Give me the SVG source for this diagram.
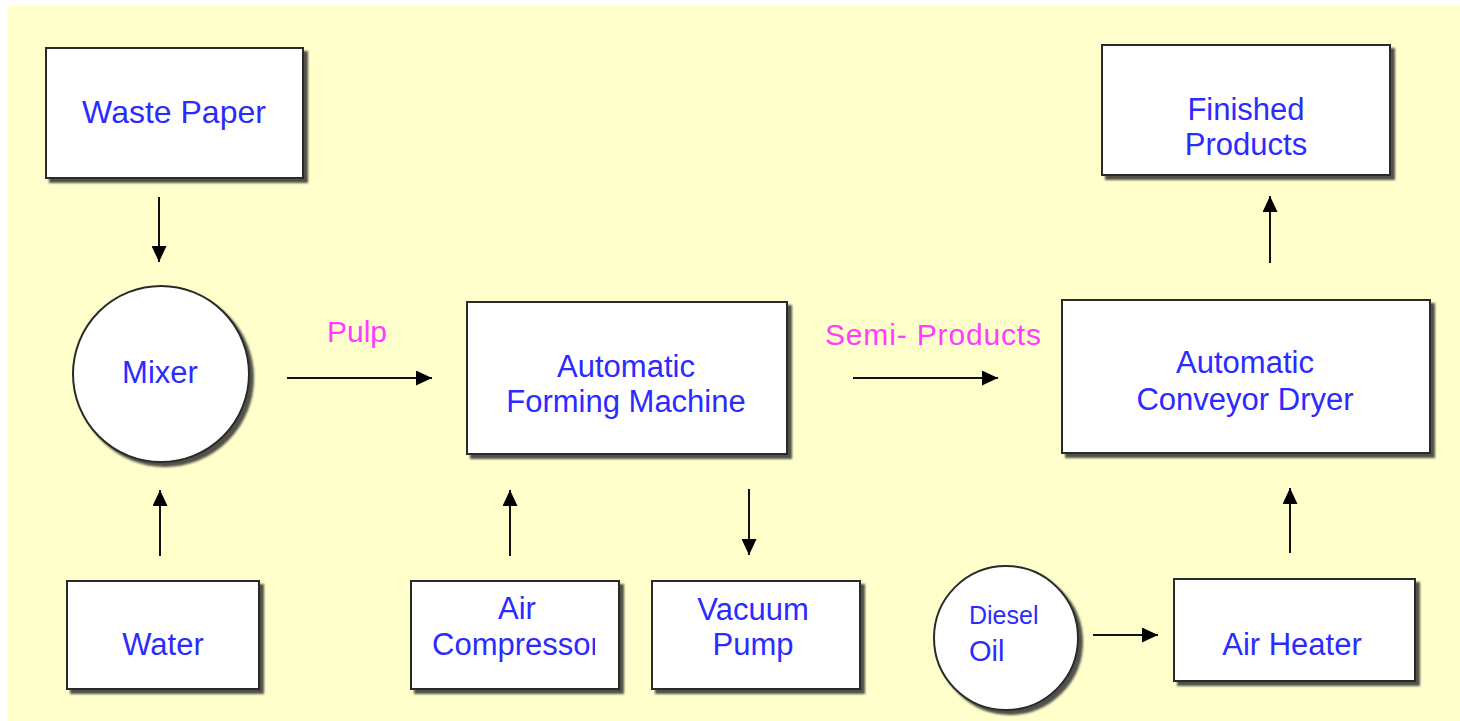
<svg xmlns="http://www.w3.org/2000/svg" width="1460" height="721" viewBox="0 0 1460 721">
<style>
.box{fill:#fff;stroke:#2a2a2a;stroke-width:2;filter:url(#sh)}
.t{font-family:"Liberation Sans",Arial,sans-serif;font-size:31px;fill:#2b2bff;text-anchor:middle}
.m{font-family:"Liberation Sans",Arial,sans-serif;font-size:30px;fill:#ff3cff}
.c{stroke:#111;stroke-width:2;fill:none;marker-end:url(#ah)}
</style>
<defs>
<filter id="sh" x="-10%" y="-10%" width="130%" height="130%">
<feDropShadow dx="4" dy="4" stdDeviation="1.2" flood-color="#333" flood-opacity="0.85"/>
</filter>
<marker id="ah" viewBox="0 0 16 15" refX="16" refY="7.5" markerWidth="17" markerHeight="15" markerUnits="userSpaceOnUse" orient="auto">
<path d="M0,0 L16,7.5 L0,15 Z" fill="#000"/>
</marker>
<clipPath id="clipComp"><rect x="411" y="581" width="184" height="108"/></clipPath>
</defs>
<rect x="8" y="6" width="1452" height="715" fill="#ffffcc"/>
<g id="connectors">
<line class="c" x1="159" y1="197" x2="159" y2="262"/>
<line class="c" x1="160" y1="556" x2="160" y2="490"/>
<line class="c" x1="287" y1="378" x2="432" y2="378"/>
<line class="c" x1="510" y1="556" x2="510" y2="490"/>
<line class="c" x1="749" y1="489" x2="749" y2="555"/>
<line class="c" x1="853" y1="378" x2="998" y2="378"/>
<line class="c" x1="1270" y1="263" x2="1270" y2="196"/>
<line class="c" x1="1290" y1="553" x2="1290" y2="488"/>
<line class="c" x1="1093" y1="635" x2="1158" y2="635"/>
<text class="m" x="327" y="342">Pulp</text>
<text class="m" x="825" y="345" textLength="216">Semi- Products</text>
</g>
<g id="waste-paper">
<rect class="box" x="46" y="48" width="257" height="130"/>
<text class="t" x="174" y="123" style="font-size:32px">Waste Paper</text>
</g>
<g id="mixer">
<circle class="box" cx="161" cy="374" r="88"/>
<text class="t" x="160" y="383">Mixer</text>
</g>
<g id="water">
<rect class="box" x="67" y="581" width="192" height="108"/>
<text class="t" x="163" y="655">Water</text>
</g>
<g id="forming-machine">
<rect class="box" x="467" y="302" width="320" height="152"/>
<text class="t" x="626" y="377">Automatic</text>
<text class="t" x="626" y="412">Forming Machine</text>
</g>
<g id="air-compressor">
<rect class="box" x="411" y="581" width="208" height="108"/>
<text class="t" x="517" y="619">Air</text>
<text class="t" x="432" y="655" clip-path="url(#clipComp)" style="text-anchor:start">Compressor</text>
</g>
<g id="vacuum-pump">
<rect class="box" x="652" y="581" width="208" height="108"/>
<text class="t" x="753" y="620">Vacuum</text>
<text class="t" x="753" y="655">Pump</text>
</g>
<g id="conveyor-dryer">
<rect class="box" x="1062" y="300" width="368" height="153"/>
<text class="t" x="1245" y="373">Automatic</text>
<text class="t" x="1245" y="410">Conveyor Dryer</text>
</g>
<g id="finished-products">
<rect class="box" x="1102" y="45" width="288" height="130"/>
<text class="t" x="1246" y="120">Finished</text>
<text class="t" x="1246" y="155">Products</text>
</g>
<g id="diesel-oil">
<circle class="box" cx="1006" cy="638" r="72"/>
<text class="t" x="969" y="624" style="font-size:25px;text-anchor:start">Diesel</text>
<text class="t" x="969" y="661" style="font-size:29px;text-anchor:start">Oil</text>
</g>
<g id="air-heater">
<rect class="box" x="1174" y="579" width="241" height="102"/>
<text class="t" x="1292" y="655">Air Heater</text>
</g>
</svg>
